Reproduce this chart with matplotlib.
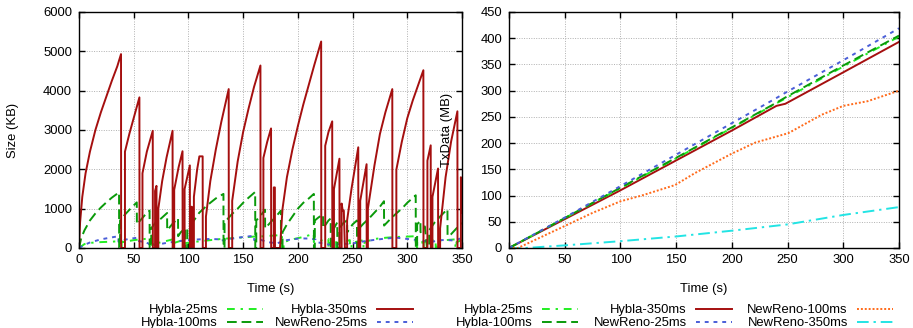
import numpy as np
import matplotlib
matplotlib.use("Agg")
import matplotlib.pyplot as plt
from matplotlib.lines import Line2D

plt.rcParams['font.family'] = ['Liberation Sans', 'DejaVu Sans']
plt.rcParams['font.size'] = 9.4

# === cwnd size (KB) vs time (s), left panel
hybla350_cwnd = [
    (0, 0), (1, 650), (3, 1300), (6, 1900), (10, 2450), (15, 3000), (20, 3450), (25, 3850),
    (30, 4250), (35, 4620), (38.4, 4930),
    (38.5, 0), (42, 0), (42, 2450), (46, 2900), (50, 3300), (55.2, 3830),
    (55.3, 0), (58, 0), (58, 1900), (62, 2450), (67.4, 2980),
    (67.5, 0), (69.5, 0), (69.5, 1450), (70.8, 1580), (70.9, 0), (72.5, 0), (72.5, 1000),
    (76, 1700), (80, 2300), (85.5, 2980),
    (85.6, 0), (87, 0), (87, 1480), (91, 2050), (94.6, 2460),
    (94.7, 0), (96.5, 0), (96.5, 1500), (101.3, 2100),
    (101.4, 0), (103, 0), (103, 1050), (104, 0), (105, 0), (105, 1300), (108, 2000),
    (110, 2330), (113, 2330),
    (113.1, 0), (116, 0), (116, 800), (120, 1700), (125, 2500), (130, 3200), (136.8, 4040),
    (136.9, 0), (140, 0), (140, 1200), (145, 2200), (150, 2950), (155, 3550), (160, 4100),
    (165.8, 4640),
    (165.9, 0), (168.5, 0), (168.5, 2290), (172, 2700), (175.5, 3040),
    (175.6, 0), (178, 0), (178, 1540), (179, 1540), (179.1, 0), (183.7, 0), (186, 1000),
    (190, 1800), (195, 2500), (200, 3100), (205, 3650), (210, 4150), (215, 4650), (221.3, 5250),
    (221.4, 0), (225, 0), (225, 2600), (228, 2950), (231.4, 3220),
    (231.5, 0), (233, 0), (233, 1500), (238, 2270), (238.1, 0), (240, 0), (240, 1130),
    (241, 950), (242, 950), (243, 0), (245, 0), (245, 700), (249, 1500), (255.2, 2560),
    (255.3, 0), (257, 0), (257, 1200), (262.8, 2130),
    (262.9, 0), (264, 0), (264, 1000), (270, 2100), (275, 2900), (280, 3450), (286.3, 4040),
    (286.4, 0), (290, 0), (290, 1990), (295, 2700), (300, 3300), (305, 3750), (310, 4150),
    (314.7, 4520),
    (314.8, 0), (318.4, 0), (318.4, 2220), (321.4, 2610),
    (321.5, 0), (323, 0), (323, 1300), (328.1, 2020),
    (328.2, 0), (330, 0), (330, 500), (335, 1800), (340, 2700), (345.8, 3475),
    (345.9, 0), (349, 0), (349, 1800), (350, 900),
]

hybla100_cwnd = [
    (0, 0), (2, 250), (5, 450), (10, 700), (15, 880), (20, 1030), (25, 1160), (30, 1280),
    (36.6, 1415),
    (36.7, 0), (37.5, 0), (37.5, 700), (42, 850), (47, 1000), (52.8, 1160),
    (52.9, 600), (56, 700), (60, 830), (64.5, 950),
    (64.6, 0), (66, 0), (66, 500), (70, 650), (75, 750), (80.5, 890),
    (80.6, 450), (85, 600), (90.5, 760),
    (90.6, 300), (93, 400), (97, 500), (97.1, 0), (99, 0), (99, 500), (105, 700), (110, 900),
    (115, 1030), (120, 1150), (125, 1260), (132, 1375),
    (132.1, 0), (133, 0), (133, 650), (140, 870), (145, 1000), (150, 1150), (155, 1280),
    (161, 1425),
    (161.1, 0), (162, 0), (162, 700), (166, 820), (170, 975),
    (170.1, 500), (175, 650), (180, 800), (184.5, 950),
    (184.6, 0), (186, 0), (186, 400), (190, 600), (195, 800), (200, 1000), (205, 1150),
    (210, 1260), (214.6, 1375),
    (214.7, 0), (215.5, 0), (215.5, 700), (219, 780), (223, 850),
    (223.1, 500), (228, 700), (230, 750), (230.1, 0), (232, 0), (232, 450), (236, 650),
    (236.1, 0), (238, 0), (238, 500), (242, 650), (245, 700), (245.1, 400), (250, 600),
    (254, 700), (254.1, 0), (256, 0), (256, 500), (260, 620), (265, 750), (270, 900),
    (275, 1050), (278.7, 1190),
    (278.8, 570), (285, 750), (290, 880), (295, 1000), (300, 1150), (307.7, 1340),
    (307.8, 0), (309, 0), (309, 600), (312, 700), (312.1, 400), (316, 550), (318, 0),
    (320, 0), (320, 450), (325, 650), (330, 800), (336.7, 990),
    (336.8, 300), (340, 350), (345, 500), (350, 640),
]

hybla25_cwnd = [
    (0, 0), (5, 100), (10, 130), (20, 150), (30, 160), (38.9, 180), (39, 0), (40, 0),
    (40, 150), (50, 200), (60, 230), (66.4, 250), (66.5, 0), (67.5, 0), (67.5, 150),
    (69.9, 200), (70, 0), (71, 0), (71, 120), (80, 180), (85.7, 220), (85.8, 0), (87, 0),
    (87, 130), (94.9, 200), (95, 0), (96, 0), (96, 120), (110, 170), (120, 200), (130, 230),
    (140, 250), (150, 270), (160, 290), (170, 300), (180, 320), (185.5, 330), (185.6, 0),
    (187, 0), (187, 150), (195, 220), (205, 280), (214.5, 360), (214.6, 150), (220, 180),
    (227.9, 230), (228, 0), (229, 0), (229, 120), (234.9, 170), (235, 0), (236, 0),
    (236, 120), (247.5, 200), (247.6, 0), (249, 0), (249, 130), (259.9, 200), (260, 0),
    (261, 0), (261, 150), (270, 230), (280, 260), (290, 280), (300, 290), (307.6, 300),
    (307.7, 0), (309, 0), (309, 150), (313.7, 200), (313.8, 0), (315, 0), (315, 150),
    (325.9, 210), (326, 0), (327, 0), (327, 150), (335, 200), (343.9, 220), (344, 0),
    (345, 0), (345, 150), (350, 200),
]

newreno25_cwnd = [
    (0, 0), (5, 80), (10, 140), (20, 220), (30, 270), (36, 300), (36.1, 160), (45, 230),
    (53, 260), (53.1, 185), (60, 150), (64, 110), (64.1, 60), (70, 80), (80, 130),
    (90, 170), (100, 200), (110, 220), (120, 230), (129, 220), (129.1, 185), (140, 240),
    (150, 280), (160, 310), (160.1, 200), (165, 220), (172, 150), (181, 120), (190, 200),
    (202, 245), (210, 240), (216, 220), (216.1, 160), (225, 100), (232, 76), (240, 110),
    (248, 100), (258, 160), (269, 203), (280, 240), (290, 262), (300, 230), (309, 203),
    (316, 180), (323, 160), (330, 200), (336, 203), (343, 190), (350, 254),
]

# === transmitted data (MB) vs time (s), right panel
txdata_t = [0, 50, 100, 150, 200, 240, 248, 300, 350]
hybla25_tx = [0, 57, 114, 171, 229, 276, 285, 346, 403]
hybla100_tx = [0, 57, 115, 172, 230, 277, 287, 348, 405]
hybla350_tx = [0, 55, 110, 167, 224, 271, 275, 335, 393]
newreno25_tx = [0, 58, 118, 178, 238, 286, 296, 358, 419]

newreno100_t = [0, 8, 20, 35, 50.7, 75, 100, 119, 149, 167, 200, 221, 250.7, 280.5, 300, 322, 350]
newreno100_tx = [0, 0, 12, 27, 42.6, 67, 89, 100, 120, 143, 180, 201, 219, 254, 271, 280, 300]

newreno350_t = [0, 15, 50, 100, 150, 200, 250, 300, 350]
newreno350_tx = [0, 0, 5, 13, 22, 33, 45, 63, 78]

labels = ['Hybla-25ms', 'Hybla-100ms', 'Hybla-350ms',
          'NewReno-25ms', 'NewReno-100ms', 'NewReno-350ms']

# colours / line styles (gnuplot-ish)
styles = {
    'Hybla-25ms': dict(color='#22ee22', linestyle=(0, (4, 3, 1.2, 3))),
    'Hybla-100ms': dict(color='#0a9a0a', linestyle=(0, (5, 2.5))),
    'Hybla-350ms': dict(color='#a50f0f', linestyle='-'),
    'NewReno-25ms': dict(color='#4a5ed8', linestyle=(0, (2, 2.5))),
    'NewReno-100ms': dict(color='#ff6a1a', linestyle=(0, (1, 1))),
    'NewReno-350ms': dict(color='#22e4e4', linestyle=(0, (6, 2.5, 1.2, 2.5))),
}
lw = 1.4

fig = plt.figure(figsize=(9.13, 3.28), dpi=100)
ax1 = fig.add_axes([79 / 913, 80 / 328, 383 / 913, 236 / 328])
ax2 = fig.add_axes([509 / 913, 80 / 328, 390 / 913, 236 / 328])


def style_axes(ax):
    ax.grid(True, color='#b0b0b0', linestyle=(0, (1, 1.5)), linewidth=0.7)
    ax.set_axisbelow(True)
    ax.tick_params(direction='in', top=True, right=True, length=4, width=1,
                   labelsize=9.4, pad=5)
    ax.tick_params(axis='x', pad=4)
    for s in ax.spines.values():
        s.set_linewidth(1)
    ax.set_xlim(0, 350)
    ax.set_xticks(np.arange(0, 351, 50))
    ax.set_xlabel('Time (s)')
    ax.xaxis.set_label_coords(0.5, -0.148)


def plot_pairs(ax, pairs, name):
    arr = np.array(pairs, dtype=float)
    ax.plot(arr[:, 0], arr[:, 1], lw=lw, **styles[name])


# left: cwnd
plot_pairs(ax1, hybla25_cwnd, 'Hybla-25ms')
plot_pairs(ax1, newreno25_cwnd, 'NewReno-25ms')
plot_pairs(ax1, hybla100_cwnd, 'Hybla-100ms')
plot_pairs(ax1, hybla350_cwnd, 'Hybla-350ms')
style_axes(ax1)
ax1.set_ylim(0, 6000)
ax1.set_yticks(np.arange(0, 6001, 1000))
ax1.set_ylabel('Size (KB)')
ax1.yaxis.set_label_coords(-0.157, 0.5)

# right: transmitted data
ax2.plot(newreno350_t, newreno350_tx, lw=lw, **styles['NewReno-350ms'])
ax2.plot(newreno100_t, newreno100_tx, lw=lw, **styles['NewReno-100ms'])
ax2.plot(txdata_t, hybla350_tx, lw=lw, **styles['Hybla-350ms'])
ax2.plot(txdata_t, hybla25_tx, lw=lw, **styles['Hybla-25ms'])
ax2.plot(txdata_t, hybla100_tx, lw=lw, **styles['Hybla-100ms'])
ax2.plot(txdata_t, newreno25_tx, lw=lw, **styles['NewReno-25ms'])
style_axes(ax2)
ax2.set_ylim(0, 450)
ax2.set_yticks(np.arange(0, 451, 50))
ax2.set_ylabel('TxData (MB)')
ax2.yaxis.set_label_coords(-0.1436, 0.5)

handles = {n: Line2D([], [], lw=lw, **styles[n]) for n in labels}

leg_kw = dict(frameon=False, markerfirst=False, handlelength=2.8, handletextpad=0.7,
              labelspacing=0.08, borderpad=0, borderaxespad=0, fontsize=9.4,
              loc='upper left')

left_names = ['Hybla-25ms', 'Hybla-100ms', 'Hybla-350ms', 'NewReno-25ms']
fig.legend([handles[n] for n in left_names], left_names, ncol=2, columnspacing=0.85,
           bbox_to_anchor=(141 / 913, 24 / 328), **leg_kw)

fig.legend([handles[n] for n in labels], labels, ncol=3, columnspacing=1.15,
           bbox_to_anchor=(456 / 913, 24 / 328), **leg_kw)

fig.savefig('out.png', dpi=100)
